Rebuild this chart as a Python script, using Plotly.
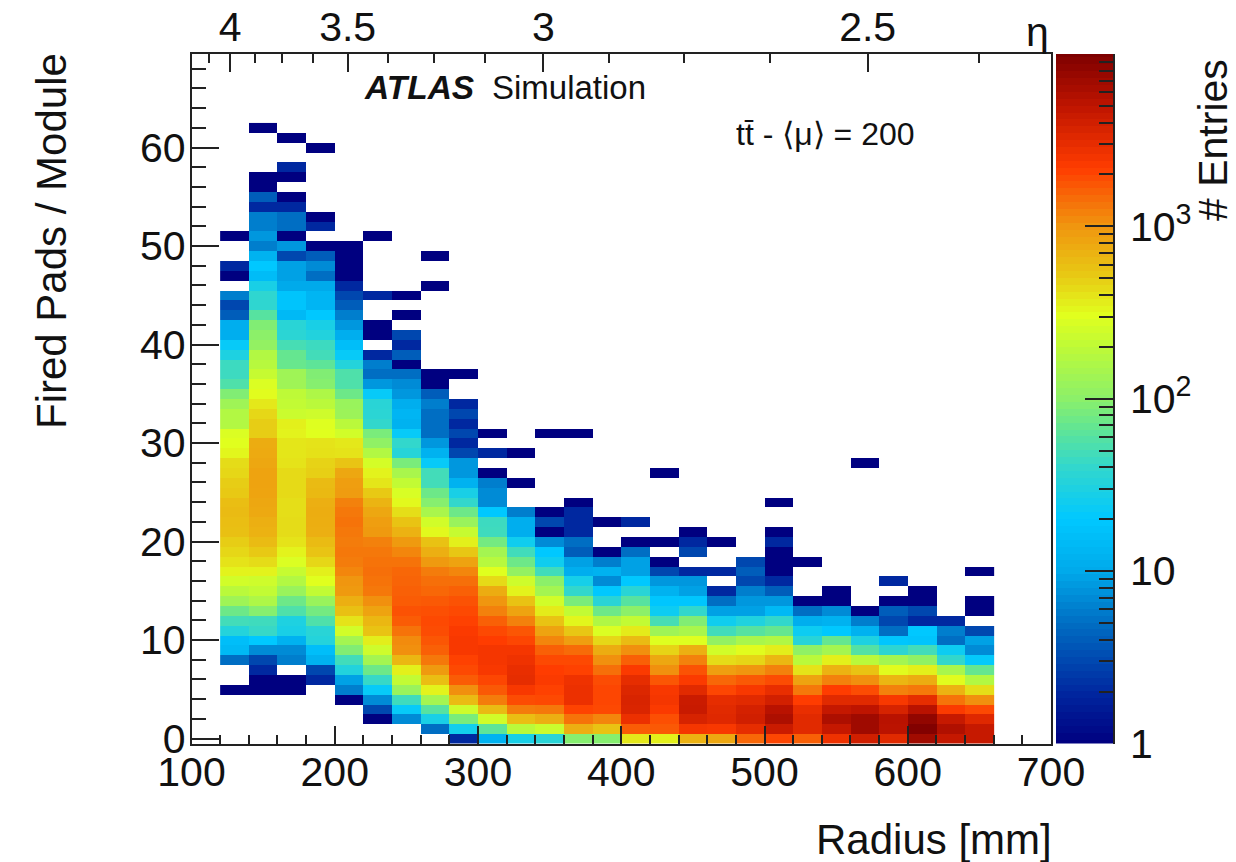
import math
import plotly.graph_objects as go

# Radius bin centres (mm); each list gives entries for Fired Pads = 0, 1, 2, ...
radius_bins = list(range(130, 660, 20))
r130 = [0,0,0,0,0,1,0,0,5,14,16,33,48,75,130,190,250,340,400,450,500,580,600,620,600,520,500,450,430,330,300,280,170,170,130,90,55,45,45,30,22,11,11,4,3,6,0,1,2,0,0,1]
r150 = [0,0,0,0,0,1,1,2,3,7,20,42,46,95,160,210,240,340,430,520,620,700,720,780,800,830,850,850,800,770,750,500,500,450,380,310,280,220,180,170,110,100,90,60,38,38,28,15,20,12,6,8,6,6,2,4,1,1,0,0,0,0,1]
r170 = [0,0,0,0,0,1,1,0,6,7,12,28,30,55,75,120,170,220,280,340,400,430,430,420,420,440,440,440,400,390,390,340,350,230,210,200,130,130,72,70,50,36,35,14,18,18,10,9,9,3,8,1,5,5,2,1,0,1,2,0,0,1]
r190 = [0,0,0,0,0,0,2,3,12,16,33,35,55,80,120,210,300,350,450,550,620,720,730,740,720,640,620,490,470,410,400,300,290,240,190,160,95,90,65,48,45,32,28,20,13,13,10,5,7,4,1,0,2,1,0,0,0,0,0,0,1]
r210 = [0,0,0,0,1,6,9,32,47,90,140,250,400,580,720,950,1000,1150,1250,1300,1250,1300,1350,1300,1200,920,900,800,550,400,380,250,190,125,120,75,55,55,33,22,16,11,8,6,4,3,2,1,1,1,1]
r230 = [0,0,1,3,7,22,42,75,140,240,360,560,650,850,1050,1300,1350,1400,1350,1300,1200,950,900,800,680,520,390,340,260,170,105,85,40,36,35,22,8,5,6,2,0,1,1,0,0,2,0,0,0,0,0,1]
r250 = [0,0,7,22,46,120,210,350,650,1050,1100,1350,1650,1800,1650,1600,1550,1500,1350,1150,950,700,560,420,320,270,210,150,85,34,40,22,12,13,11,8,7,5,1,4,2,3,0,1,0,1]
r270 = [0,5,28,60,140,340,600,950,1300,1600,1750,1900,1950,1850,1700,1500,1400,1250,950,720,570,320,250,150,95,75,48,48,22,12,8,5,5,5,6,4,1,1,0,0,0,0,0,0,0,0,1,0,0,1]
r290 = [2,26,85,240,620,1050,1650,1950,2100,2400,2400,2300,2100,1950,1800,1600,1400,1150,850,530,350,220,120,75,40,28,12,8,8,3,2,3,2,3,2,0,0,1]
r310 = [12,65,250,620,1250,1700,2000,2400,2500,2500,2200,1950,1600,1200,1000,750,440,300,180,140,80,46,45,20,7,7,6,1,0,2,0,1]
r330 = [28,190,600,1250,1900,2400,3000,2900,2700,2500,2000,1750,1200,850,570,340,240,110,75,47,25,11,11,6,0,0,1,0,0,1]
r350 = [35,230,720,1300,1950,2100,2300,2200,1950,1600,1150,850,560,370,250,140,100,47,25,20,7,1,3,1,0,0,0,0,0,0,0,1]
r370 = [95,720,1350,2050,2800,2800,2700,2100,1950,1450,900,540,330,210,85,40,27,11,9,4,5,2,2,2,1,0,0,0,0,0,0,1]
r390 = [95,560,1150,1950,2000,2000,1900,1400,1050,750,450,280,165,75,35,20,7,12,6,1,0,0,1]
r410 = [380,1650,2800,3500,3600,3400,3000,2300,1600,1050,620,370,210,100,60,35,20,9,9,5,1,0,2]
r430 = [350,1700,1850,2300,2500,2400,1750,1050,800,470,290,130,50,24,19,12,8,3,1,0,1,0,0,0,0,0,0,1]
r450 = [700,2500,3700,4400,4300,3200,2300,1800,1200,720,290,150,90,40,19,9,8,2,0,3,2,1]
r470 = [800,2400,3300,3200,3000,2000,1500,900,430,250,110,47,25,9,5,2,0,2,0,0,1]
r490 = [1500,3000,4000,3800,3200,2400,1700,1000,460,310,150,60,31,9,8,6,3,4,3]
r510 = [2000,4300,6000,5300,3900,2900,1900,1200,650,360,165,70,40,14,8,4,2,1,1,1,2,1,0,0,1]
r530 = [1600,3200,3200,2900,2200,1300,850,400,190,105,34,24,11,5,1,0,0,0,1]
r550 = [2700,4600,6000,4600,3200,2200,1200,700,350,140,70,20,12,7,1,1]
r570 = [4000,7000,7000,5000,3200,1900,1050,560,190,58,30,12,6,1,0,0,0,0,0,0,0,0,0,0,0,0,0,0,1]
r590 = [3200,5200,5300,3700,2400,1200,660,310,140,37,19,5,3,4,1,0,2]
r610 = [6800,9500,8000,5300,3000,1300,750,350,105,48,18,20,2,3,1,1]
r630 = [4600,5800,4500,2300,1350,700,310,150,40,24,5,6,2]
r650 = [4500,4500,3300,1950,1050,420,170,70,21,7,9,3,0,1,1,0,0,1]
columns = [r130,r150,r170,r190,r210,r230,r250,r270,r290,r310,r330,r350,r370,r390,
           r410,r430,r450,r470,r490,r510,r530,r550,r570,r590,r610,r630,r650]

eta_labels = ["4", "3.5", "3", "2.5"]
eta_major_radius = [127, 209, 345.7, 572]
eta_minor_radius = [112, 144, 163, 185, 237, 269, 304.6, 391.6, 444, 504, 649.5]
colorbar_levels = [i / 100 * 4 for i in range(0, 101)]

FONT = "Liberation Sans, Arial, sans-serif"
W, H = 1236, 862
L, R_, T, B = 191.5, 1051, 54, 743.5
INK = "#222222"
TEXT = "#111111"

colorscale = [
    [0.0, "rgb(0,0,128)"], [0.075, "rgb(0,40,160)"], [0.175, "rgb(0,110,195)"],
    [0.25, "rgb(0,170,235)"], [0.325, "rgb(0,200,255)"], [0.40, "rgb(50,215,205)"],
    [0.46, "rgb(100,230,145)"], [0.50, "rgb(140,240,105)"], [0.575, "rgb(190,250,55)"],
    [0.62, "rgb(225,255,30)"], [0.68, "rgb(232,200,20)"], [0.75, "rgb(240,150,15)"],
    [0.835, "rgb(255,60,0)"], [0.925, "rgb(190,20,0)"], [1.0, "rgb(125,0,0)"],
]

n_rows = max(len(c) for c in columns)
fired_pads = list(range(n_rows))
z = [[(math.log10(c[y]) if y < len(c) and c[y] > 0 else None) for c in columns] for y in fired_pads]
hover = [[(c[y] if y < len(c) else 0) for c in columns] for y in fired_pads]

fig = go.Figure()
fig.add_trace(go.Heatmap(x=radius_bins, y=fired_pads, z=z, customdata=hover,
                         hovertemplate="R=%{x} mm<br>pads=%{y}<br>entries=%{customdata}<extra></extra>",
                         coloraxis="coloraxis", xaxis="x", yaxis="y"))
# invisible carrier for the eta axis on top
fig.add_trace(go.Scatter(x=[100, 700], y=[0, 0], mode="markers", marker=dict(opacity=0),
                         hoverinfo="skip", showlegend=False, xaxis="x2", yaxis="y"))
# colour scale drawn as its own axis so that it can carry ROOT-style major/minor ticks
fig.add_trace(go.Heatmap(x=[0], y=colorbar_levels, z=[[v] for v in colorbar_levels],
                         coloraxis="coloraxis", hoverinfo="skip", xaxis="x3", yaxis="y3"))

tick_font = dict(family=FONT, size=41, color=TEXT)


def note(text, x, y, size, xanchor="center", angle=0):
    return dict(text=text, xref="paper", yref="paper", x=x / W, y=1 - y / H, xanchor=xanchor,
                yanchor="middle", textangle=angle, showarrow=False,
                font=dict(family=FONT, size=size, color=TEXT))


fig.update_layout(
    width=W, height=H, margin=dict(l=0, r=0, t=0, b=0, autoexpand=False),
    paper_bgcolor="white", plot_bgcolor="white", showlegend=False,
    coloraxis=dict(colorscale=colorscale, cmin=0, cmax=4, showscale=False),
    xaxis=dict(domain=[L / W, R_ / W], range=[100, 700], anchor="y", side="bottom",
               tickmode="array", tickvals=[100, 200, 300, 400, 500, 600, 700],
               ticks="inside", ticklen=18, tickwidth=1.5, tickcolor=INK, ticklabelstandoff=-8,
               minor=dict(tickmode="linear", tick0=100, dtick=20, ticks="inside", ticklen=9,
                          tickwidth=1.5, tickcolor=INK, showgrid=False),
               showline=True, linecolor=INK, linewidth=1.5, showgrid=False, zeroline=False,
               tickfont=tick_font),
    xaxis2=dict(domain=[L / W, R_ / W], range=[100, 700], anchor="y", overlaying="x", side="top",
                tickmode="array", tickvals=eta_major_radius, ticktext=eta_labels,
                ticks="inside", ticklen=18, tickwidth=1.5, tickcolor=INK, ticklabelstandoff=-5,
                minor=dict(tickmode="array", tickvals=eta_minor_radius, ticks="inside", ticklen=9,
                           tickwidth=1.5, tickcolor=INK, showgrid=False),
                showline=True, linecolor=INK, linewidth=1.5, showgrid=False, zeroline=False,
                tickfont=tick_font),
    yaxis=dict(domain=[1 - B / H, 1 - T / H], range=[-0.5, 69.5], anchor="x",
               tickmode="array", tickvals=[0, 10, 20, 30, 40, 50, 60],
               ticks="inside", ticklen=28, tickwidth=1.5, tickcolor=INK, ticklabelstandoff=-4,
               minor=dict(tickmode="linear", tick0=0, dtick=2, ticks="inside", ticklen=15,
                          tickwidth=1.5, tickcolor=INK, showgrid=False),
               showline=True, mirror=True, linecolor=INK, linewidth=1.5, showgrid=False,
               zeroline=False, tickfont=tick_font),
    xaxis3=dict(domain=[1056 / W, 1113 / W], range=[-0.5, 0.5], anchor="y3", visible=False),
    yaxis3=dict(domain=[1 - B / H, 1 - T / H], range=[0, 4], anchor="x3", side="right",
                tickmode="array", tickvals=[0, 1, 2, 3],
                ticktext=["1", "10", "10<sup>2</sup>", "10<sup>3</sup>"],
                ticks="inside", ticklen=28, tickwidth=1.5, tickcolor=INK, ticklabelstandoff=7,
                minor=dict(tickmode="array",
                           tickvals=[d + math.log10(m) for d in range(4) for m in range(2, 10)],
                           ticks="inside", ticklen=14, tickwidth=1.5, tickcolor=INK, showgrid=False),
                showline=True, linecolor=INK, linewidth=1.5, showgrid=False, zeroline=False,
                tickfont=tick_font),
    annotations=[
        note("Fired Pads / Module", 52, 241, 42, angle=-90),
        note("Radius [mm]", 1054, 839, 42, xanchor="right"),
        note("# Entries", 1213, 140, 41, angle=-90),
        note("<b><i>ATLAS</i></b>", 362, 88, 33.5, xanchor="left"),
        note("Simulation", 490, 88, 33, xanchor="left"),
        note("tt\u0304 - \u27e8\u03bc\u27e9 = 200", 734, 134, 32, xanchor="left"),
        note("\u03b7", 1037, 32, 41),
    ],
)

fig.write_html("out.html", config={"displayModeBar": False},
               post_script="document.body.style.margin='0';")
